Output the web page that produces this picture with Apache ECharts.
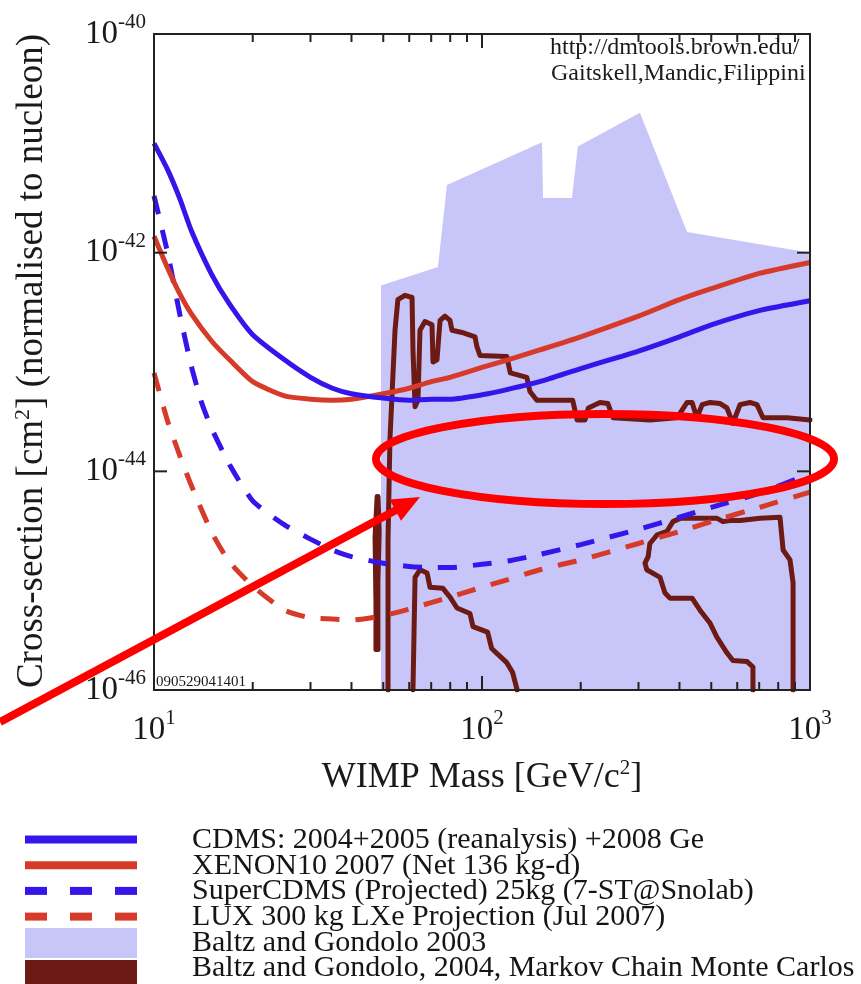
<!DOCTYPE html>
<html><head><meta charset="utf-8">
<script src="https://cdn.jsdelivr.net/npm/echarts@6/dist/echarts.min.js"></script>
<style>html,body{margin:0;padding:0;background:#fff}#c{width:861px;height:984px}</style>
</head><body><div id="c"></div>
<script>
// ---------- data ----------
const xTickExponents = [1, 2, 3];
const yTickExponents = [-40, -42, -44, -46];
const xMinorTicks = [20, 30, 40, 50, 60, 70, 80, 90, 200, 300, 400, 500, 600, 700, 800, 900];
const xMajorTicks = [100];
const yMajorTicks = [1e-42, 1e-44];

const seriesNames = [
  'CDMS: 2004+2005 (reanalysis) +2008 Ge',
  'XENON10 2007 (Net 136 kg-d)',
  'SuperCDMS (Projected) 25kg (7-ST@Snolab)',
  'LUX 300 kg LXe Projection (Jul 2007)',
  'Baltz and Gondolo 2003',
  'Baltz and Gondolo, 2004, Markov Chain Monte Carlos'
];

// WIMP mass (GeV/c^2) and log10(cross-section / cm^2)
const cdmsMass = [10,11,12,13,15,17,20,25,30,35,40,50,60,70,80,100,120,150,200,300,400,500,700,1000];
const cdmsLogSigma = [-41.00,-41.24,-41.51,-41.80,-42.20,-42.47,-42.75,-42.98,-43.14,-43.24,-43.29,-43.33,-43.35,-43.34,-43.34,-43.30,-43.25,-43.18,-43.06,-42.90,-42.77,-42.66,-42.53,-42.44];

const xenonMass = [10,11,12,13,15,17,20,25,30,35,40,50,60,70,80,100,120,150,200,300,400,500,700,1000];
const xenonLogSigma = [-41.85,-42.14,-42.38,-42.56,-42.81,-42.98,-43.18,-43.31,-43.34,-43.35,-43.34,-43.29,-43.24,-43.18,-43.14,-43.05,-42.98,-42.89,-42.77,-42.58,-42.43,-42.33,-42.19,-42.09];

const superMass = [10,11,12,13,14,15,17,20,25,30,35,40,50,60,70,80,100,120,150,200,300,400,500,700,1000];
const superLogSigma = [-41.48,-42.00,-42.57,-43.04,-43.38,-43.61,-43.94,-44.27,-44.49,-44.62,-44.72,-44.78,-44.84,-44.87,-44.88,-44.88,-44.85,-44.82,-44.76,-44.67,-44.53,-44.42,-44.33,-44.20,-44.02];

const luxMass = [10,11,12,13,15,17,20,25,30,35,40,50,60,70,80,100,120,150,200,300,400,500,700,1000];
const luxLogSigma = [-43.10,-43.54,-43.86,-44.13,-44.56,-44.83,-45.05,-45.27,-45.34,-45.35,-45.36,-45.32,-45.26,-45.20,-45.15,-45.06,-44.99,-44.90,-44.81,-44.66,-44.55,-44.46,-44.33,-44.19];

const baltz2003Mass = [49.2,73.4,78.2,152.4,153.5,188,196,303,422,1000];
const baltz2003LogSigma = [-42.30,-42.13,-41.38,-40.99,-41.50,-41.50,-41.03,-40.72,-41.81,-42.00];

const mcmcMainMass = [51.7,51.7,52.4,54.3,55.4,58.2,61.2,61.6,62.5,63.8,64.7,67.0,70.4,70.9,72.9,74.5,77.1,79.9,81.0,86.9,95.2,96.5,98.6,119,122,137,140,147,173,189,195,206,211,229,242,251,325,393,422,437,452,469,496,532,558,582,612,656,689,719,851,1000];
const mcmcMainLogSigma = [-46.0,-44.63,-43.71,-42.71,-42.43,-42.39,-42.41,-42.89,-43.41,-43.35,-42.71,-42.63,-42.66,-43.00,-42.98,-42.62,-42.58,-42.62,-42.71,-42.73,-42.77,-42.86,-42.94,-42.95,-43.10,-43.14,-43.27,-43.35,-43.35,-43.35,-43.53,-43.53,-43.42,-43.37,-43.38,-43.51,-43.53,-43.51,-43.37,-43.37,-43.51,-43.39,-43.37,-43.38,-43.42,-43.56,-43.39,-43.37,-43.39,-43.51,-43.51,-43.53];

const mcmcThinMass = [47.9,47.2,47.5,47.5,48.2,48.2,48.6,48.2,47.9];
const mcmcThinLogSigma = [-44.23,-44.60,-45.20,-45.63,-45.63,-45.00,-44.55,-44.23,-44.23];

const mcmcLow1Mass = [61.6,62.5,64.7,68.0,69.4,76.0,79.9,83.9,91.9,93.9,104,107,119,124,128];
const mcmcLow1LogSigma = [-46.0,-44.97,-44.90,-44.93,-45.06,-45.07,-45.15,-45.25,-45.30,-45.42,-45.47,-45.62,-45.75,-45.84,-46.0];

const mcmcLow2Mass = [670,670,643,582,558,521,496,462,437,374,361,349,318,314,321,325,342,366,382,402,521,543,570,612,704,810,828,869,888,888];
const mcmcLow2LogSigma = [-46.0,-45.79,-45.74,-45.73,-45.66,-45.52,-45.39,-45.27,-45.16,-45.16,-45.11,-44.97,-44.90,-44.84,-44.78,-44.66,-44.58,-44.55,-44.46,-44.43,-44.43,-44.46,-44.45,-44.45,-44.43,-44.42,-44.72,-44.81,-45.02,-46.0];

// ---------- styles ----------
const BLUE = '#3416ea', RED = '#d63a28', LAV = '#c8c6f8', BROWN = '#6c1a13';
const FONT = '"Liberation Serif", "DejaVu Serif", serif';
const INK = '#1a1a1a';
const X_MIN = 10, X_MAX = 1000, Y_MIN = 1e-46, Y_MAX = 1e-40;

const pts = (m, l) => m.map((v, i) => [v, Math.pow(10, l[i])]);

const chart = echarts.init(document.getElementById('c'), null, {renderer: 'canvas'});

const powRich = {
  b: {fontSize: 33, lineHeight: 44, fontFamily: FONT, fill: INK, color: INK},
  s: {fontSize: 21, lineHeight: 21, fontFamily: FONT, fill: INK, color: INK, verticalAlign: 'top'}
};
const axisLineStyle = {show: true, onZero: false, lineStyle: {color: '#222', width: 2}};

function lineSeries(name, data, color, dashed, z) {
  return {
    name, type: 'line', data, showSymbol: false, symbol: 'none', smooth: 0.2, z,
    xAxisIndex: 0, yAxisIndex: 0, silent: true, animation: false,
    lineStyle: {color, width: 5, type: dashed ? [19, 16] : 'solid', cap: 'butt'}
  };
}
function contour(data) {
  return {
    name: seriesNames[5], type: 'line', data, showSymbol: false, symbol: 'none', z: 3,
    xAxisIndex: 0, yAxisIndex: 0, silent: true, animation: false,
    lineStyle: {color: BROWN, width: 5, join: 'round', cap: 'round'}
  };
}
function regionSeries(name, data, color) {
  return {
    name, type: 'custom', z: 1, silent: true, clip: true, animation: false, xAxisIndex: 0, yAxisIndex: 0,
    data,
    renderItem(params, api) {
      if (params.dataIndex !== 0) return null;
      const poly = data.map(p => api.coord(p));
      poly.push(api.coord([data[data.length - 1][0], Y_MIN]));
      poly.push(api.coord([data[0][0], Y_MIN]));
      return {type: 'polygon', shape: {points: poly}, style: {fill: color}};
    }
  };
}
function xTickSeries(vals, len) {
  return {
    type: 'custom', silent: true, z: 12, clip: false, animation: false, xAxisIndex: 0, yAxisIndex: 0,
    data: vals.map(v => [v, Y_MIN]),
    renderItem(params, api) {
      const cs = params.coordSys;
      const x = api.coord([api.value(0), Y_MIN])[0];
      const st = {stroke: '#222', lineWidth: 2};
      return {type: 'group', children: [
        {type: 'line', shape: {x1: x, y1: cs.y, x2: x, y2: cs.y + len}, style: st},
        {type: 'line', shape: {x1: x, y1: cs.y + cs.height, x2: x, y2: cs.y + cs.height - len}, style: st}
      ]};
    }
  };
}
function yTickSeries(vals, len) {
  return {
    type: 'custom', silent: true, z: 12, clip: false, animation: false, xAxisIndex: 0, yAxisIndex: 0,
    data: vals.map(v => [X_MIN, v]),
    renderItem(params, api) {
      const cs = params.coordSys;
      const y = api.coord([X_MIN, api.value(1)])[1];
      const st = {stroke: '#222', lineWidth: 2};
      return {type: 'group', children: [
        {type: 'line', shape: {x1: cs.x, y1: y, x2: cs.x + len, y2: y}, style: st},
        {type: 'line', shape: {x1: cs.x + cs.width, y1: y, x2: cs.x + cs.width - len, y2: y}, style: st}
      ]};
    }
  };
}
function yLabelSeries(exps, margin) {
  return {
    type: 'custom', silent: true, z: 12, clip: false, animation: false, xAxisIndex: 0, yAxisIndex: 0,
    data: exps.map(e => [X_MIN, Math.pow(10, e)]),
    renderItem(params, api) {
      const cs = params.coordSys;
      const e = exps[params.dataIndex];
      const y = api.coord([X_MIN, api.value(1)])[1];
      return {type: 'text', x: cs.x - margin, y,
        style: {text: '{b|10}{s|' + e + '}', rich: powRich, align: 'right', verticalAlign: 'middle', fill: INK}};
    }
  };
}

// legend built from names/colours
const legendColors = [BLUE, RED, BLUE, RED, LAV, BROWN];
const legendGraphics = [];
const rowY = i => 840 + i * 25.7;
seriesNames.forEach((nm, i) => {
  const c = legendColors[i];
  if (i < 2) legendGraphics.push({type: 'rect', shape: {x: 25, y: rowY(i) - 4.5, width: 112, height: 8}, style: {fill: c}, z: 100});
  else if (i < 4) [25, 70, 115].forEach(x0 => legendGraphics.push({type: 'rect', shape: {x: x0, y: rowY(i) - 4.5, width: 22, height: 8}, style: {fill: c}, z: 100}));
  else if (i === 4) legendGraphics.push({type: 'rect', shape: {x: 25, y: 928, width: 112, height: 30}, style: {fill: c}, z: 100});
  else legendGraphics.push({type: 'rect', shape: {x: 25, y: 960, width: 112, height: 24}, style: {fill: c}, z: 100});
  legendGraphics.push({type: 'text', x: 192, y: rowY(i), z: 100,
    style: {text: nm, font: '30px ' + FONT, fill: '#151515', verticalAlign: 'middle'}});
});

const option = {
  backgroundColor: '#ffffff',
  animation: false,
  grid: [{left: 154, right: 51, top: 34, bottom: 294, containLabel: false, outerBoundsMode: 'none'}],
  xAxis: [
    {type: 'log', logBase: 10, min: X_MIN, max: X_MAX, splitNumber: 2, position: 'bottom', gridIndex: 0, z: 10,
     axisLine: axisLineStyle, axisTick: {show: false}, minorTick: {show: false}, splitLine: {show: false},
     axisLabel: {show: true, margin: 18, showMinLabel: true, showMaxLabel: true, rich: powRich,
       formatter: v => { const e = Math.round(Math.log10(v)); return xTickExponents.includes(e) ? '{b|10}{s|' + e + '}' : ''; }},
     name: 'WIMP Mass [GeV/c{s|2}]', nameLocation: 'middle', nameGap: 68,
     nameTextStyle: {fontSize: 36, lineHeight: 40, fontFamily: FONT, color: INK,
       rich: {s: {fontSize: 21, lineHeight: 21, fontFamily: FONT, color: INK, verticalAlign: 'top'}}}},
    {type: 'log', logBase: 10, min: X_MIN, max: X_MAX, splitNumber: 2, position: 'top', gridIndex: 0, z: 10,
     axisLine: axisLineStyle, axisTick: {show: false}, axisLabel: {show: false}, splitLine: {show: false}}
  ],
  yAxis: [
    {type: 'log', logBase: 10, min: Y_MIN, max: Y_MAX, splitNumber: 6, position: 'left', gridIndex: 0, z: 10,
     axisLine: axisLineStyle, axisTick: {show: false}, minorTick: {show: false}, splitLine: {show: false},
     axisLabel: {show: false}},
    {type: 'log', logBase: 10, min: Y_MIN, max: Y_MAX, splitNumber: 6, position: 'right', gridIndex: 0, z: 10,
     axisLine: axisLineStyle, axisTick: {show: false}, axisLabel: {show: false}, splitLine: {show: false}}
  ],
  series: [
    regionSeries(seriesNames[4], pts(baltz2003Mass, baltz2003LogSigma), LAV),
    contour(pts(mcmcMainMass, mcmcMainLogSigma)),
    contour(pts(mcmcThinMass, mcmcThinLogSigma)),
    contour(pts(mcmcLow1Mass, mcmcLow1LogSigma)),
    contour(pts(mcmcLow2Mass, mcmcLow2LogSigma)),
    lineSeries(seriesNames[3], pts(luxMass, luxLogSigma), RED, true, 4),
    lineSeries(seriesNames[2], pts(superMass, superLogSigma), BLUE, true, 4),
    lineSeries(seriesNames[1], pts(xenonMass, xenonLogSigma), RED, false, 5),
    lineSeries(seriesNames[0], pts(cdmsMass, cdmsLogSigma), BLUE, false, 6),
    xTickSeries(xMinorTicks, 8),
    xTickSeries(xMajorTicks, 14),
    yTickSeries(yMajorTicks, 13),
    yLabelSeries(yTickExponents, 8)
  ],
  graphic: [
    {type: 'text', x: 32, y: 361, rotation: Math.PI / 2, z: 100,
     style: {text: 'Cross-section [cm{s|2}] (normalised to nucleon)', font: '37px ' + FONT, fill: INK,
       align: 'center', verticalAlign: 'middle', lineHeight: 40,
       rich: {s: {fontSize: 22, lineHeight: 22, fontFamily: FONT, fill: INK, verticalAlign: 'top'}}}},
    {type: 'text', x: 550, y: 48, z: 100, style: {text: 'http://dmtools.brown.edu/', font: '24px ' + FONT, fill: INK, verticalAlign: 'middle'}},
    {type: 'text', x: 551, y: 74, z: 100, style: {text: 'Gaitskell,Mandic,Filippini', font: '24px ' + FONT, fill: INK, verticalAlign: 'middle'}},
    {type: 'text', x: 156, y: 682, z: 100, style: {text: '090529041401', font: '15px ' + FONT, fill: INK, verticalAlign: 'middle'}},
    {type: 'ellipse', z: 110, shape: {cx: 605, cy: 459, rx: 229, ry: 45}, style: {fill: 'transparent', stroke: '#ff0000', lineWidth: 8}},
    {type: 'line', z: 110, shape: {x1: 0, y1: 722, x2: 398, y2: 509}, style: {stroke: '#ff0000', lineWidth: 8}},
    {type: 'polygon', z: 110, shape: {points: [[420, 497], [389.6, 499.6], [401, 520.8]]}, style: {fill: '#ff0000'}}
  ].concat(legendGraphics)
};
try {
  chart.setOption(option);
} catch (e) {
  document.body.insertAdjacentHTML('beforeend', '<pre>' + e.stack + '</pre>');
}
</script>
</body></html>
